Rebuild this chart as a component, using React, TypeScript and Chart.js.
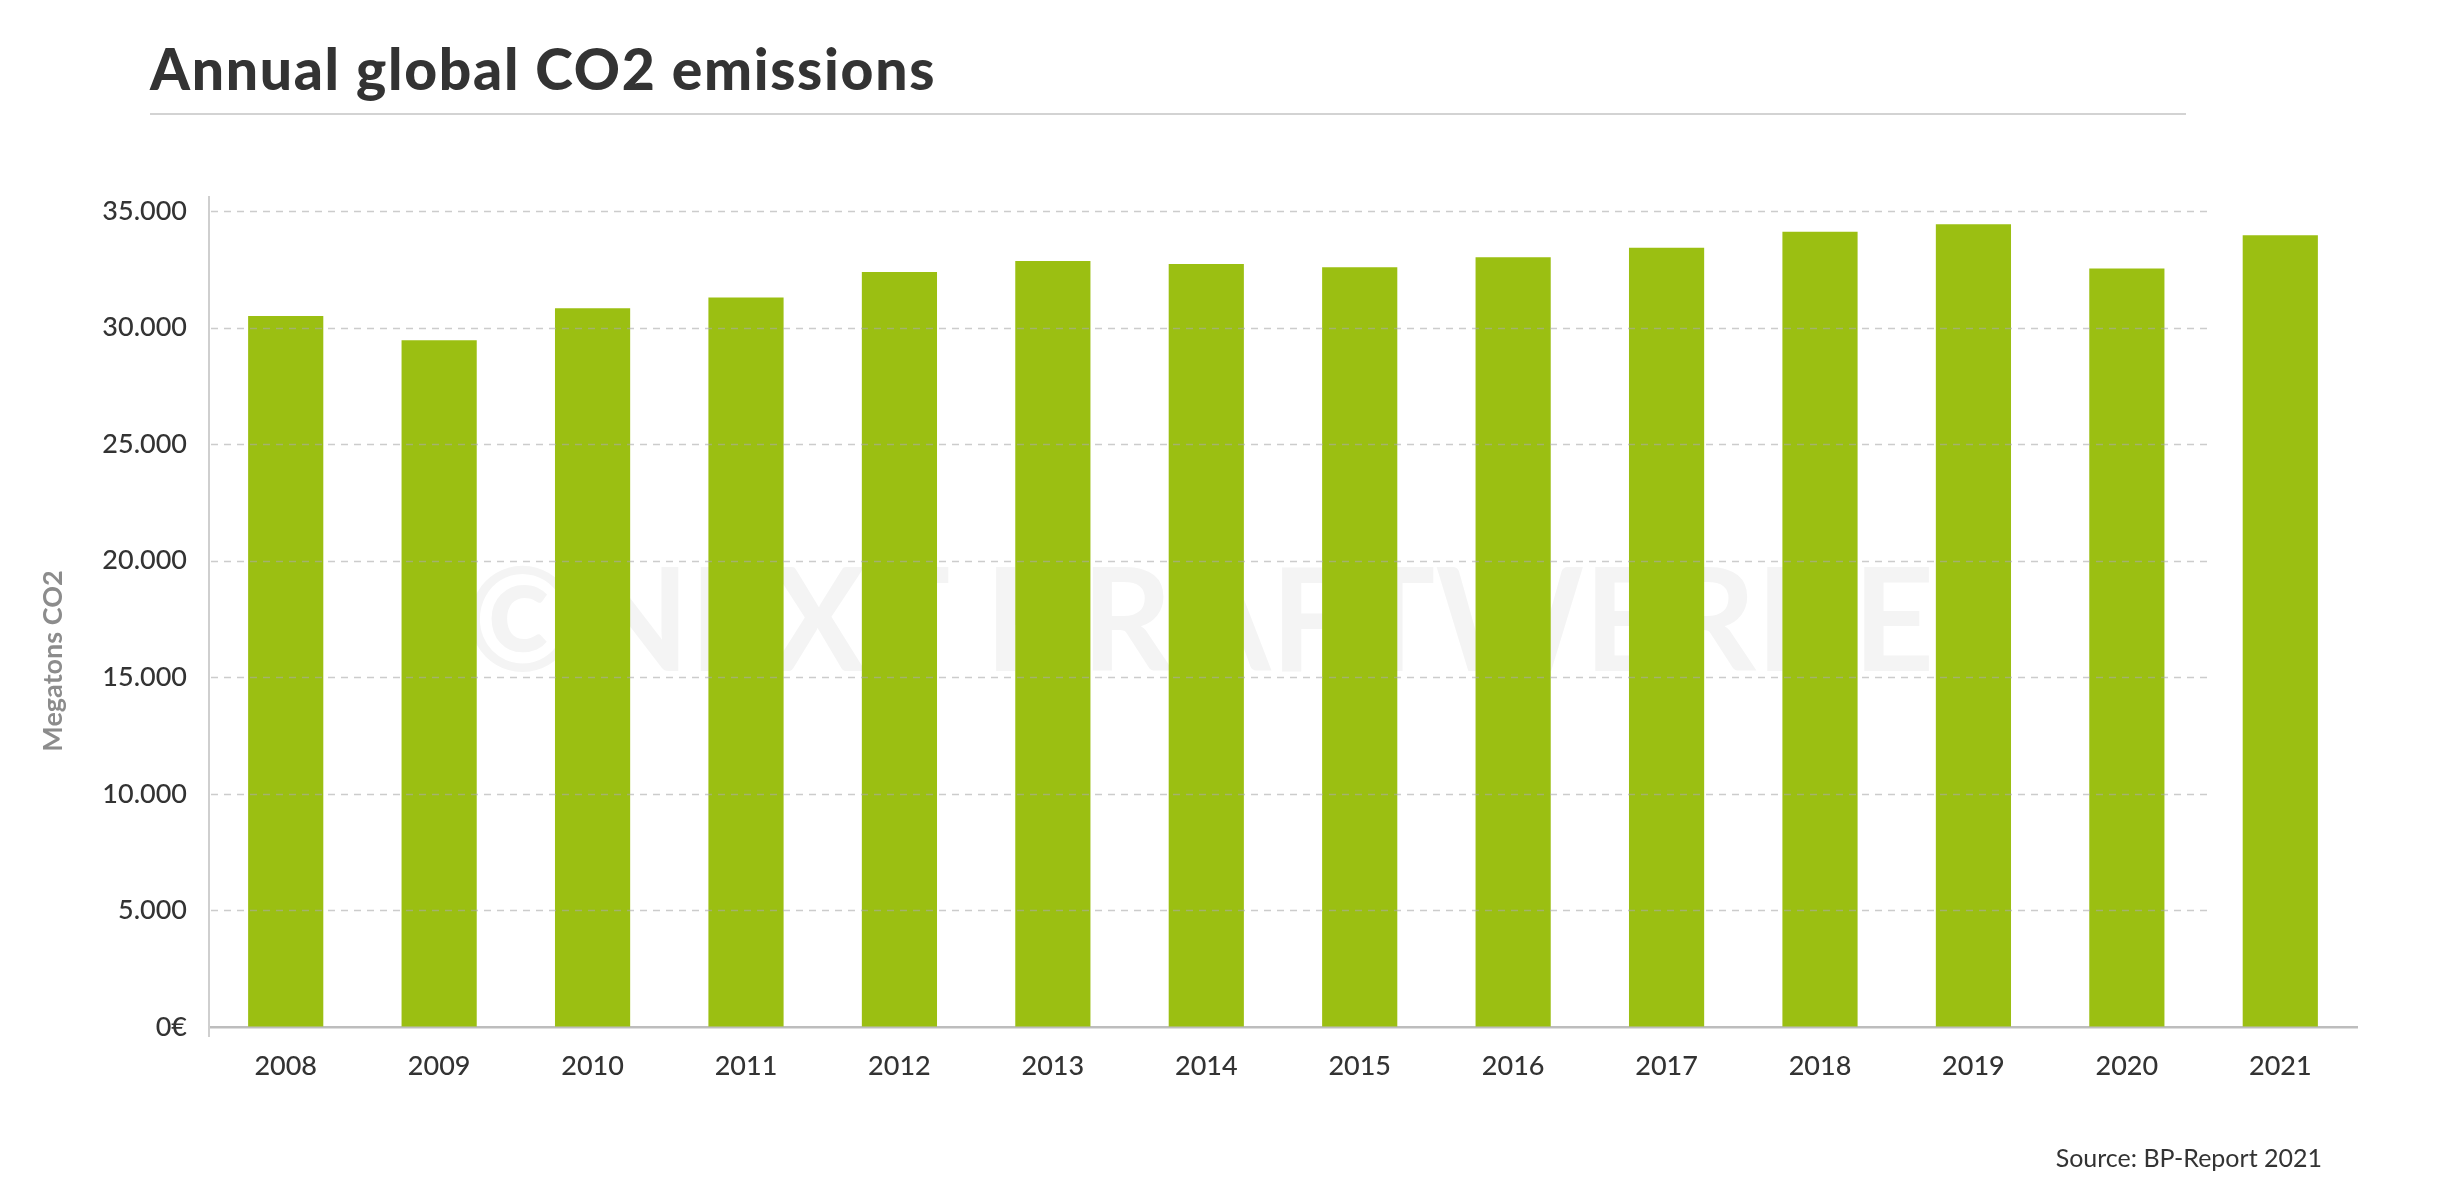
import React, { useEffect, useRef } from "react";
import { Chart, registerables } from "chart.js";

Chart.register(...registerables);

const years = ["2008", "2009", "2010", "2011", "2012", "2013", "2014", "2015", "2016", "2017", "2018", "2019", "2020", "2021"];
const emissions = [30500, 29460, 30830, 31290, 32380, 32850, 32730, 32590, 33020, 33420, 34110, 34430, 32530, 33960];
const yTickValues = [0, 5000, 10000, 15000, 20000, 25000, 30000, 35000];
const yTickLabels = ["0€", "5.000", "10.000", "15.000", "20.000", "25.000", "30.000", "35.000"];

const titleText = "Annual global CO2 emissions";
const yAxisTitle = "Megatons CO2";
const sourceText = "Source: BP-Report 2021";
const watermarkText = "©NEXT KRAFTWERKE";

const BAR_COLOR = "#9bbf12";
const TEXT_COLOR = "#333333";

const decorPlugin = {
  id: "decor",
  beforeDatasetsDraw(chart: any) {
    const { ctx, chartArea } = chart;
    ctx.save();
    ctx.font = "bold 144px Lato";
    ctx.fillStyle = "#f4f4f4";
    ctx.textAlign = "center";
    ctx.textBaseline = "alphabetic";
    const w = ctx.measureText(watermarkText).width;
    const cx = chartArea.left + (chartArea.right - chartArea.left) * 0.461;
    ctx.translate(cx, chartArea.top + 474);
    ctx.scale(1470 / w, 1);
    ctx.fillText(watermarkText, 0, 0);
    ctx.restore();
  },
  afterDatasetsDraw(chart: any) {
    const { ctx, chartArea, scales } = chart;
    const y = scales.y;
    const x = scales.x;
    const gridEnd = (x.getPixelForValue(12) + x.getPixelForValue(13)) / 2 + 6;
    ctx.save();
    ctx.strokeStyle = "rgba(170,170,170,0.6)";
    ctx.lineWidth = 1.5;
    ctx.setLineDash([7, 6]);
    yTickValues.forEach((v) => {
      if (v === 0) return;
      const py = Math.round(y.getPixelForValue(v)) + 0.5;
      ctx.beginPath();
      ctx.moveTo(chartArea.left + 2, py);
      ctx.lineTo(gridEnd, py);
      ctx.stroke();
    });
    ctx.restore();
  },
  afterDraw(chart: any) {
    const { ctx, chartArea } = chart;
    ctx.save();
    ctx.strokeStyle = "#cfcfcf";
    ctx.lineWidth = 2;
    ctx.beginPath();
    ctx.moveTo(chartArea.left, chartArea.bottom);
    ctx.lineTo(chartArea.left, chartArea.bottom + 10);
    ctx.stroke();
    ctx.translate(53, 661);
    ctx.rotate(-Math.PI / 2);
    ctx.font = "bold 27px Lato";
    ctx.fillStyle = "#8c8c8c";
    ctx.textAlign = "center";
    ctx.textBaseline = "middle";
    ctx.fillText(yAxisTitle, 0, 0);
    ctx.restore();
  },
};

export default function App() {
  const canvasRef = useRef<HTMLCanvasElement | null>(null);

  useEffect(() => {
    if (!canvasRef.current) return;
    const chart = new Chart(canvasRef.current, {
      type: "bar",
      data: {
        labels: years,
        datasets: [
          {
            label: "CO2",
            data: emissions,
            backgroundColor: BAR_COLOR,
            borderWidth: 0,
            barPercentage: 0.49,
            categoryPercentage: 1,
          },
        ],
      },
      options: {
        animation: false,
        responsive: true,
        maintainAspectRatio: false,
        devicePixelRatio: 1,
        layout: { padding: { top: 197, right: 83, left: 0, bottom: 0 } },
        plugins: {
          legend: { display: false },
          tooltip: { enabled: false },
          title: { display: false },
        },
        scales: {
          x: {
            grid: { display: true, drawOnChartArea: false, drawTicks: false },
            border: { display: true, color: "#bdbdbd", width: 2.5 },
            ticks: {
              color: TEXT_COLOR,
              font: { family: "Lato", size: 27, weight: "500" },
              padding: 23,
              maxRotation: 0,
            },
            afterFit: (s: any) => {
              s.height = 174;
            },
          },
          y: {
            min: 0,
            max: 35600,
            grid: { display: true, drawOnChartArea: false, drawTicks: false },
            border: { display: true, color: "#cfcfcf", width: 2 },
            afterBuildTicks: (s: any) => {
              s.ticks = yTickValues.map((v) => ({ value: v }));
            },
            ticks: {
              color: TEXT_COLOR,
              font: { family: "Lato", size: 27, weight: "500" },
              padding: 22,
              callback: (v: any) => {
                const i = yTickValues.indexOf(Number(v));
                return i >= 0 ? yTickLabels[i] : "";
              },
            },
            afterFit: (s: any) => {
              s.width = 209;
            },
          },
        },
      },
      plugins: [decorPlugin],
    });
    return () => chart.destroy();
  }, []);

  return (
    <div style={{ position: "fixed", left: 0, top: 0, width: 2440, height: 1201, background: "#fff", fontFamily: "Lato" }}>
      <div
        style={{
          position: "absolute",
          left: 150,
          top: 36,
          fontSize: 57,
          lineHeight: "64px",
          fontWeight: 900,
          letterSpacing: "1.7px",
          color: TEXT_COLOR,
          whiteSpace: "nowrap",
        }}
      >
        {titleText}
      </div>
      <div style={{ position: "absolute", left: 150, top: 113, width: 2036, height: 2, background: "#d3d3d3" }} />
      <canvas ref={canvasRef} style={{ position: "absolute", left: 0, top: 0, width: 2440, height: 1201 }} />
      <div
        style={{
          position: "absolute",
          right: 2440 - 2322,
          top: 1140,
          fontSize: 25,
          lineHeight: "34px",
          color: TEXT_COLOR,
          whiteSpace: "nowrap",
        }}
      >
        {sourceText}
      </div>
    </div>
  );
}
